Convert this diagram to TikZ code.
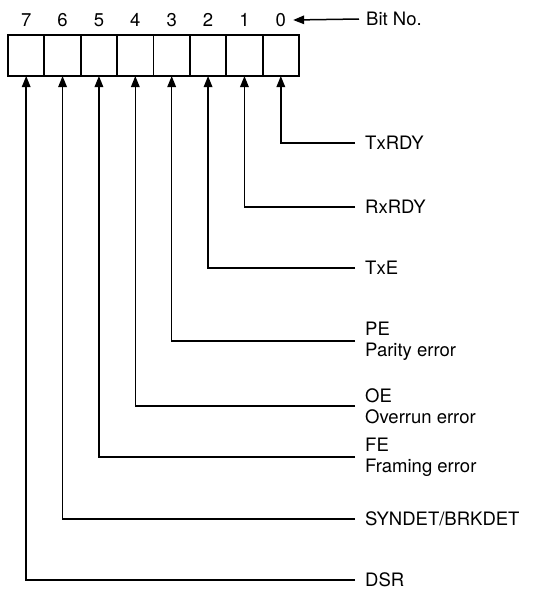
\documentclass[tikz,border=0pt]{standalone}
\usepackage{fontspec}
\setmainfont{TeX Gyre Heros}
\usetikzlibrary{arrows.meta}
\begin{document}
\begin{tikzpicture}[x=1pt,y=-1pt,
  cell/.style={draw,line width=1.8pt,minimum width=36.4pt,minimum height=41pt,inner sep=0pt,outer sep=0pt},
  txt/.style={font=\fontsize{18.5}{21}\selectfont},
  digit/.style={txt,inner sep=7pt},
  lab/.style={txt,anchor=west,align=left,inner xsep=10pt,inner ysep=0pt},
  conn/.style={line width=1.5pt,-{Triangle[length=11pt,width=8.5pt]}}]
\useasboundingbox (0,0) rectangle (553,590);
\foreach \b in {0,...,7}{
  \pgfmathsetmacro{\cx}{8+36.375*(7.5-\b)}
  \node[cell] (c\b) at (\cx,55.5) {};
  \node[digit] (d\b) at (\cx,20) {\b};
}
\node[txt,anchor=west,inner sep=7pt] (bitno) at (359,19) {Bit No.};
\draw[conn] (bitno.west) -- (d0.east);
\node[lab] (l0) at (355,143) {TxRDY};
\node[lab] (l1) at (355,207) {RxRDY};
\node[lab] (l2) at (355,268) {TxE};
\node[lab] (l3) at (355,341) {PE\\Parity error};
\node[lab] (l4) at (355,406) {OE\\Overrun error};
\node[lab] (l5) at (355,457) {FE\\Framing error};
\node[lab] (l6) at (355,519) {SYNDET/BRKDET};
\node[lab] (l7) at (355,580) {DSR};
\foreach \b in {0,...,7}{
  \draw[conn] (l\b.west) -- (c\b.south |- l\b.west) -- (c\b.south);
}
\end{tikzpicture}
\end{document}
